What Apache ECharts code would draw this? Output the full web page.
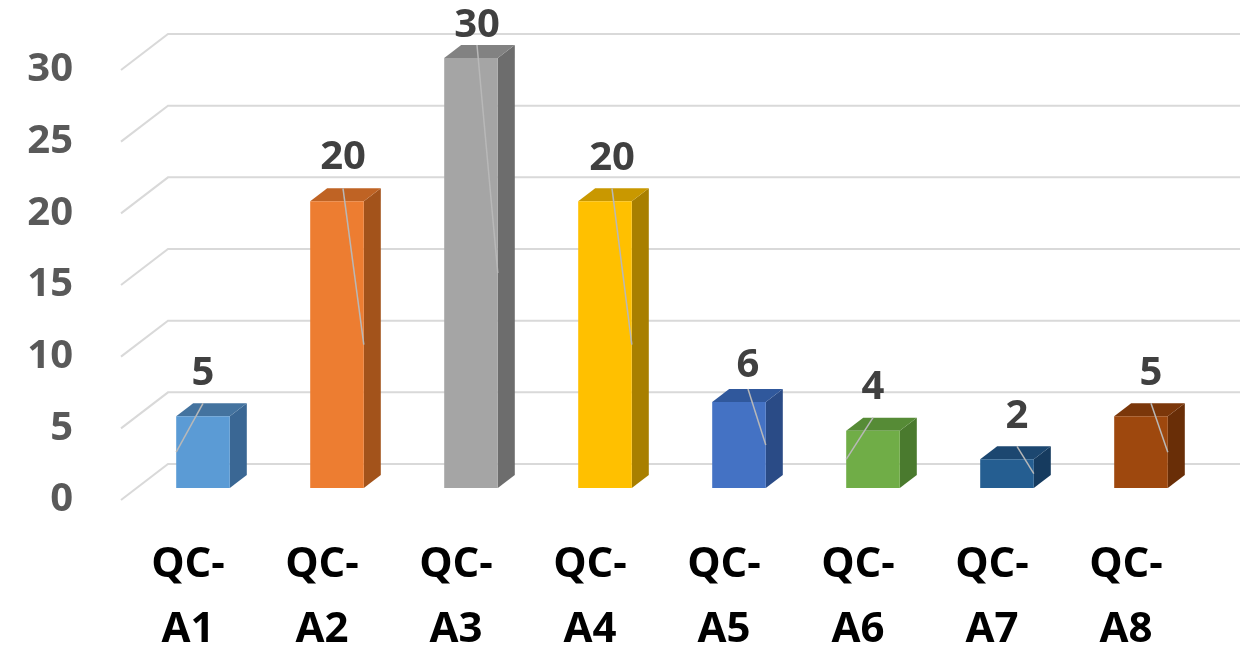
<!DOCTYPE html>
<html>
<head>
<meta charset="utf-8">
<script src="https://cdn.jsdelivr.net/npm/echarts@6/dist/echarts.min.js"></script>
<style>
  html, body { margin: 0; padding: 0; background: #ffffff; }
  #chart { width: 1256px; height: 651px; }
</style>
</head>
<body>
<div id="chart"></div>
<script>
// ---- data ----
const categories = ['QC-A1', 'QC-A2', 'QC-A3', 'QC-A4', 'QC-A5', 'QC-A6', 'QC-A7', 'QC-A8'];
const values = [5, 20, 30, 20, 6, 4, 2, 5];
const yTicks = [0, 5, 10, 15, 20, 25, 30];

// ---- per-bar styling: front, top and side face colours ----
const frontColors = ['#5b9bd5', '#ed7d31', '#a5a5a5', '#ffc000', '#4472c4', '#70ad47', '#255e91', '#9e480e'];
const topColors   = ['#44739f', '#bf6324', '#828282', '#c99800', '#30589c', '#568b36', '#1c4770', '#7b370a'];
const sideColors  = ['#3a6794', '#a3531b', '#6d6d6d', '#a87f00', '#2a4b86', '#4a7a2e', '#163b5f', '#692e07'];

// value label nudges [dx, dy] and which face edge the leader line points to
const labelNudge = [[0, 0], [6, -1], [6, 11], [7, 0], [9, 7], [0, 0], [10, 0], [10, 0]];
const leaderSide = [-1, 1, 1, 1, 1, -1, 1, 1];

// ---- perspective geometry (pixels) ----
const WALL = [47, -36];   // front plane -> back wall
const FACE = [15, -12];   // front plane -> bar front face
const DEPTH = [17, -13];  // bar front face -> bar back face
const BAR_RATIO = 0.4;
const FONT = '"Open Sans", "DejaVu Sans", sans-serif';

const chart = echarts.init(document.getElementById('chart'), null, { renderer: 'canvas' });

function renderGridLine(params, api) {
  const cs = params.coordSys;
  const y = api.coord([0, api.value(1)])[1];
  const x0 = cs.x;
  return {
    type: 'polyline',
    shape: {
      points: [
        [x0, y],
        [x0 + WALL[0], y + WALL[1]],
        [x0 + cs.width + WALL[0], y + WALL[1]]
      ]
    },
    style: { stroke: '#d9d9d9', lineWidth: 2, fill: null }
  };
}

function renderBar(params, api) {
  const i = api.value(0);
  const v = api.value(1);
  const base = api.coord([i, 0]);
  const top = api.coord([i, v]);
  const band = api.size([1, 0])[0];
  const w = band * BAR_RATIO;
  const cx = base[0] + FACE[0];
  const xL = cx - w / 2;
  const xR = cx + w / 2;
  const yB = base[1] + FACE[1];
  const yT = top[1] + FACE[1];
  const dx = DEPTH[0], dy = DEPTH[1];

  const lx = cx + labelNudge[i][0];
  const ly = yT + dy - 30 + labelNudge[i][1];
  const ex = leaderSide[i] < 0 ? xL : xR;

  return {
    type: 'group',
    children: [
      {
        type: 'polygon',
        shape: { points: [[xR, yT], [xR + dx, yT + dy], [xR + dx, yB + dy], [xR, yB]] },
        style: { fill: sideColors[i] }
      },
      {
        type: 'polygon',
        shape: { points: [[xL, yT], [xL + dx, yT + dy], [xR + dx, yT + dy], [xR, yT]] },
        style: { fill: topColors[i] }
      },
      {
        type: 'rect',
        shape: { x: xL, y: yT, width: w, height: yB - yT },
        style: { fill: frontColors[i] }
      },
      {
        type: 'line',
        shape: { x1: lx, y1: yT + dy, x2: ex, y2: (yT + yB) / 2 },
        style: { stroke: '#b8b8b8', lineWidth: 1.5 }
      },
      {
        type: 'text',
        style: {
          text: String(v),
          x: lx,
          y: ly,
          align: 'center',
          verticalAlign: 'middle',
          fill: '#404040',
          font: 'bold 40px ' + FONT
        }
      }
    ]
  };
}

chart.setOption({
  animation: false,
  backgroundColor: '#ffffff',
  grid: { left: 121, right: 63, top: 70, bottom: 151, containLabel: false, outerBoundsMode: 'none' },
  xAxis: {
    type: 'category',
    data: categories,
    axisLine: { show: false },
    axisTick: { show: false },
    splitLine: { show: false },
    axisLabel: {
      interval: 0,
      margin: 33,
      color: '#000000',
      fontFamily: FONT,
      fontWeight: 'bold',
      fontSize: 42,
      lineHeight: 65,
      formatter: (s) => s.replace('-', '-\n')
    }
  },
  yAxis: {
    type: 'value',
    min: yTicks[0],
    max: yTicks[yTicks.length - 1],
    interval: yTicks[1] - yTicks[0],
    axisLine: { show: false },
    axisTick: { show: false },
    splitLine: { show: false },
    axisLabel: {
      margin: 48,
      color: '#595959',
      fontFamily: FONT,
      fontWeight: 'bold',
      fontSize: 40,
      padding: [4, 0, 0, 0]
    }
  },
  series: [
    {
      type: 'custom',
      z: 1,
      silent: true,
      renderItem: renderGridLine,
      data: yTicks.map(t => [0, t])
    },
    {
      type: 'custom',
      z: 2,
      renderItem: renderBar,
      data: values.map((v, i) => [i, v])
    }
  ]
});
</script>
</body>
</html>
